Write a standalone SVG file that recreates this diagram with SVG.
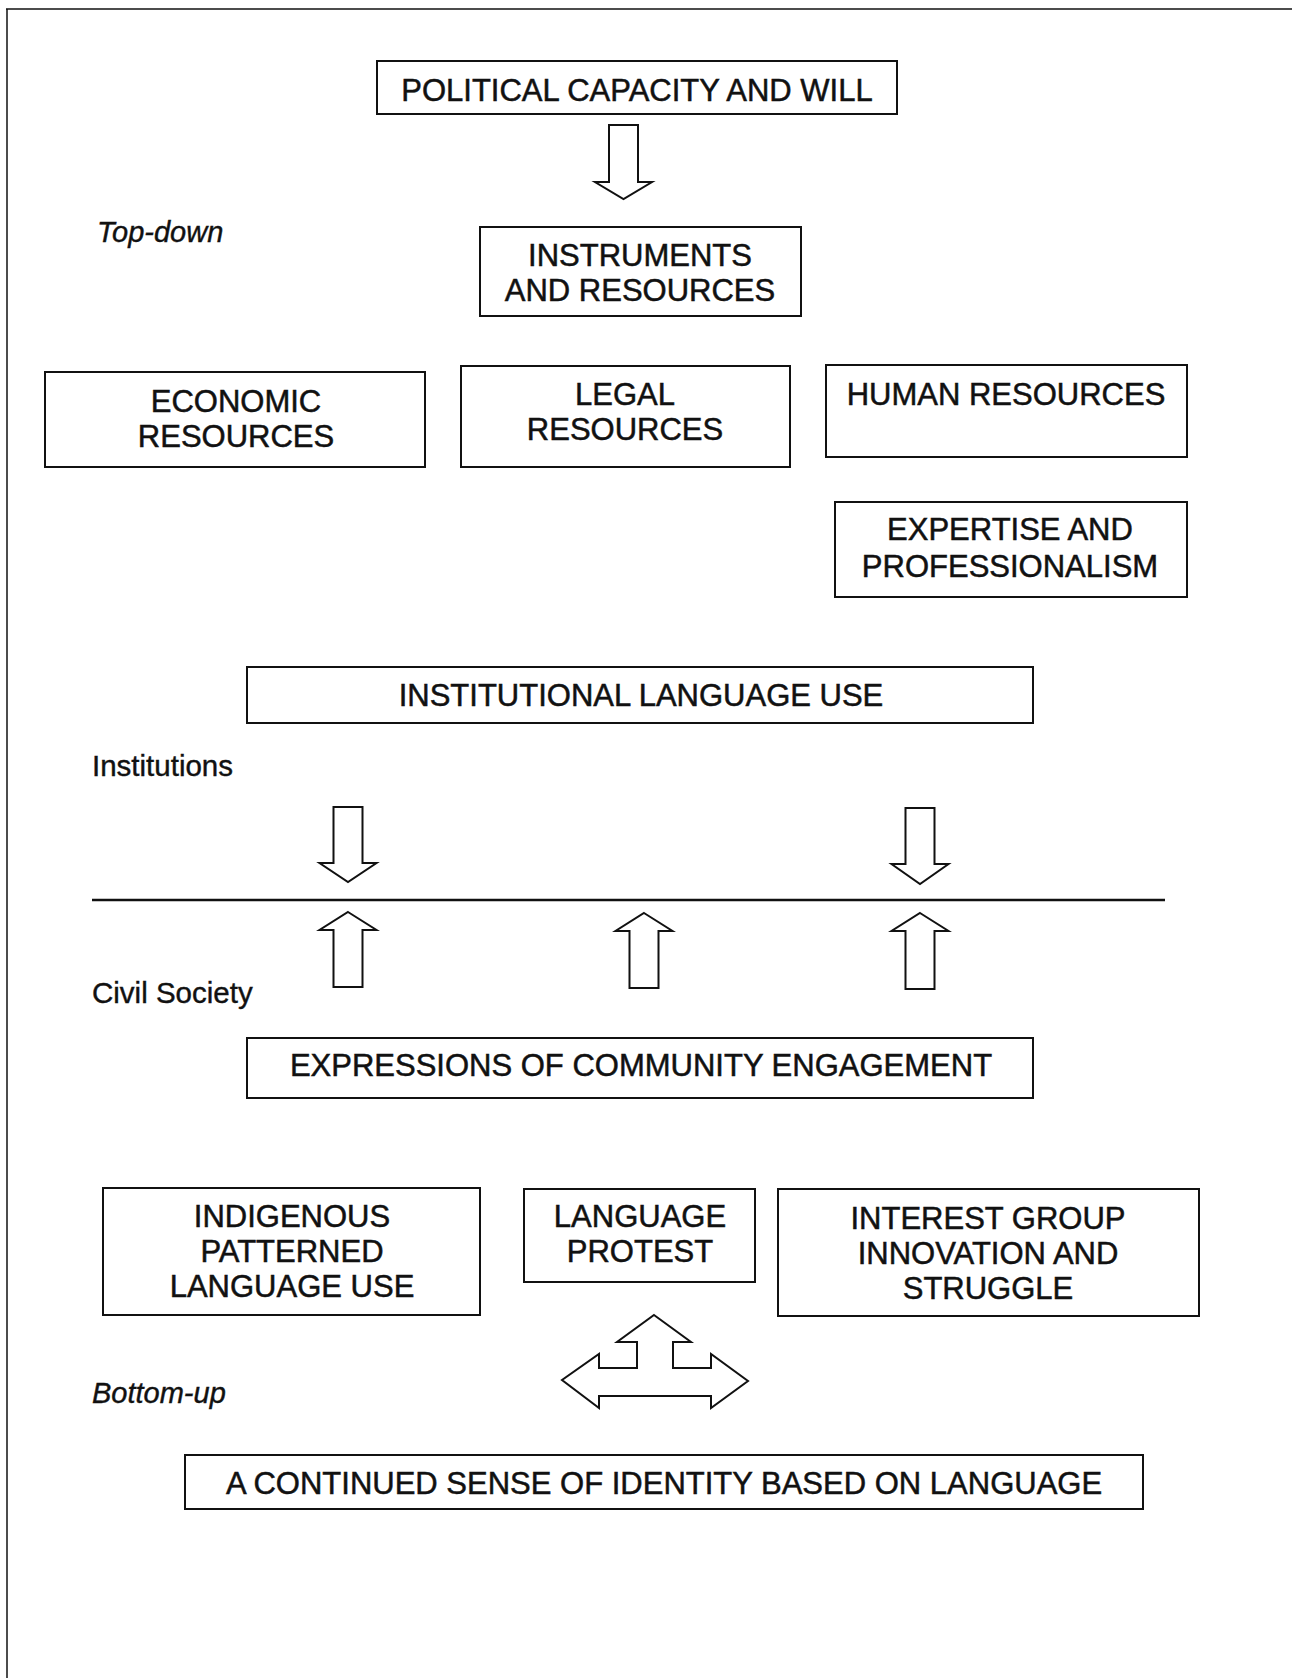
<svg xmlns="http://www.w3.org/2000/svg" width="1292" height="1678" viewBox="0 0 1292 1678">
<style>
.box{fill:#fff;stroke:#111;stroke-width:2}
.arr{fill:#fff;stroke:#111;stroke-width:2;stroke-linejoin:miter}
.t{font-family:"Liberation Sans",Arial,sans-serif;font-size:31px;fill:#111;stroke:#111;stroke-width:0.5;text-anchor:middle}
.lbl{font-family:"Liberation Sans",Arial,sans-serif;font-size:29.5px;fill:#111;stroke:#111;stroke-width:0.4}
.it{font-style:italic;font-size:29px}
</style>
<rect width="1292" height="1678" fill="#fff"/>
<g id="frame">
<line x1="6" y1="9" x2="1292" y2="9" stroke="#111" stroke-width="1.5"/>
<line x1="7" y1="9" x2="7" y2="1678" stroke="#111" stroke-width="1.5"/>
</g>
<g id="labels">
<text class="lbl it" x="97" y="242">Top-down</text>
<text class="lbl" x="92" y="776">Institutions</text>
<text class="lbl" x="92" y="1003">Civil Society</text>
<text class="lbl it" x="92" y="1403">Bottom-up</text>
</g>
<g id="connectors">
<line x1="92" y1="900" x2="1165" y2="900" stroke="#111" stroke-width="2.5"/>
<polygon class="arr" points="609,125 638,125 638,182 652,182 623.5,199 595,182 609,182"/>
<polygon class="arr" points="333.5,807 362.5,807 362.5,863 376.5,863 348,882 319.5,863 333.5,863"/>
<polygon class="arr" points="905.5,808 934.5,808 934.5,864 948.5,864 920,884 891.5,864 905.5,864"/>
<polygon class="arr" points="348,912 376.5,930 362.5,930 362.5,987 333.5,987 333.5,930 319.5,930"/>
<polygon class="arr" points="644,913 672.5,931 658.5,931 658.5,988 629.5,988 629.5,931 615.5,931"/>
<polygon class="arr" points="920,913 948.5,931 934.5,931 934.5,989 905.5,989 905.5,931 891.5,931"/>
<polygon class="arr" points="654,1315 691,1342 673,1342 673,1368 711,1368 711,1354 748,1381 711,1408 711,1396 599,1396 599,1408 562,1380 599,1354 599,1368 637,1368 637,1342 617,1342"/>
</g>
<g id="n-political"><rect class="box" x="377" y="61" width="520" height="53"/><text class="t" x="637" y="101">POLITICAL CAPACITY AND WILL</text></g>
<g id="n-instruments"><rect class="box" x="480" y="227" width="321" height="89"/><text class="t" x="640" y="266">INSTRUMENTS</text><text class="t" x="640" y="301">AND RESOURCES</text></g>
<g id="n-economic"><rect class="box" x="45" y="372" width="380" height="95"/><text class="t" x="236" y="412">ECONOMIC</text><text class="t" x="236" y="447">RESOURCES</text></g>
<g id="n-legal"><rect class="box" x="461" y="366" width="329" height="101"/><text class="t" x="625" y="405">LEGAL</text><text class="t" x="625" y="440">RESOURCES</text></g>
<g id="n-human"><rect class="box" x="826" y="365" width="361" height="92"/><text class="t" x="1006" y="405">HUMAN RESOURCES</text></g>
<g id="n-expertise"><rect class="box" x="835" y="502" width="352" height="95"/><text class="t" x="1010" y="540">EXPERTISE AND</text><text class="t" x="1010" y="577">PROFESSIONALISM</text></g>
<g id="n-institutional"><rect class="box" x="247" y="667" width="786" height="56"/><text class="t" x="641" y="706">INSTITUTIONAL LANGUAGE USE</text></g>
<g id="n-expressions"><rect class="box" x="247" y="1038" width="786" height="60"/><text class="t" x="641" y="1076">EXPRESSIONS OF COMMUNITY ENGAGEMENT</text></g>
<g id="n-indigenous"><rect class="box" x="103" y="1188" width="377" height="127"/><text class="t" x="292" y="1227">INDIGENOUS</text><text class="t" x="292" y="1262">PATTERNED</text><text class="t" x="292" y="1297">LANGUAGE USE</text></g>
<g id="n-protest"><rect class="box" x="524" y="1189" width="231" height="93"/><text class="t" x="640" y="1227">LANGUAGE</text><text class="t" x="640" y="1262">PROTEST</text></g>
<g id="n-interest"><rect class="box" x="778" y="1189" width="421" height="127"/><text class="t" x="988" y="1229">INTEREST GROUP</text><text class="t" x="988" y="1264">INNOVATION AND</text><text class="t" x="988" y="1299">STRUGGLE</text></g>
<g id="n-identity"><rect class="box" x="185" y="1455" width="958" height="54"/><text class="t" x="664" y="1494">A CONTINUED SENSE OF IDENTITY BASED ON LANGUAGE</text></g>
</svg>
